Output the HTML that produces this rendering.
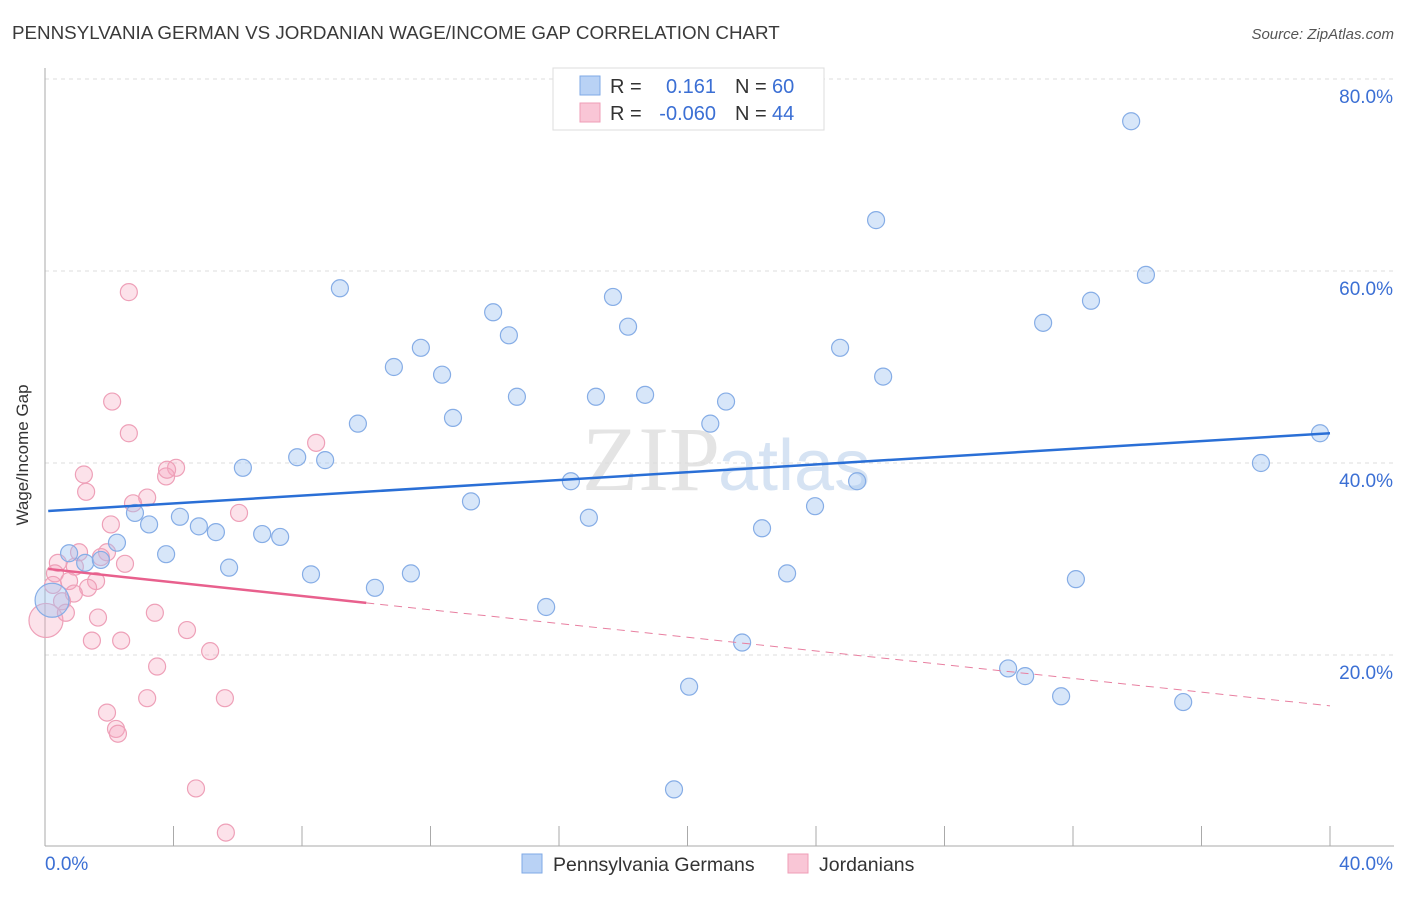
<!DOCTYPE html>
<html><head><meta charset="utf-8"><style>
body{margin:0;background:#fff;font-family:"Liberation Sans",sans-serif;}
</style></head><body>
<svg id="c" width="1406" height="892" xmlns="http://www.w3.org/2000/svg" style="font-family:'Liberation Sans',sans-serif">
<text x="12" y="39" font-size="18.8" fill="#3a3a3a">PENNSYLVANIA GERMAN VS JORDANIAN WAGE/INCOME GAP CORRELATION CHART</text>
<text x="1394" y="39" font-size="15" font-style="italic" fill="#555" text-anchor="end">Source: ZipAtlas.com</text>
<text x="720" y="490" font-size="92" font-family="Liberation Serif,serif" fill="#e4e4e4" text-anchor="end">ZIP</text>
<text x="718" y="490" font-size="72" fill="#d6e3f3">atlas</text>
<g id="grid"></g><g id="axes"></g><g id="marks"></g>
<text x="28" y="455" font-size="17" fill="#333" text-anchor="middle" transform="rotate(-90 28 455)">Wage/Income Gap</text>
<g>
<rect x="553" y="68" width="271" height="62" fill="#fff" stroke="#ddd"/>
<rect x="580" y="76" width="20" height="19" fill="#b9d2f5" stroke="#7fa9e6"/>
<rect x="580" y="103" width="20" height="19" fill="#f9c6d6" stroke="#ef9db7"/>
<text x="610" y="93" font-size="20" fill="#333">R =</text>
<text x="716" y="93" font-size="20" fill="#3b6fd4" text-anchor="end">0.161</text>
<text x="735" y="93" font-size="20" fill="#333">N =</text>
<text x="772" y="93" font-size="20" fill="#3b6fd4">60</text>
<text x="610" y="120" font-size="20" fill="#333">R =</text>
<text x="716" y="120" font-size="20" fill="#3b6fd4" text-anchor="end">-0.060</text>
<text x="735" y="120" font-size="20" fill="#333">N =</text>
<text x="772" y="120" font-size="20" fill="#3b6fd4">44</text>
</g>
<g>
<rect x="522" y="854" width="20" height="19" fill="#b9d2f5" stroke="#7fa9e6"/>
<text x="553" y="871" font-size="19.5" fill="#333">Pennsylvania Germans</text>
<rect x="788" y="854" width="20" height="19" fill="#f9c6d6" stroke="#ef9db7"/>
<text x="819" y="871" font-size="19.5" fill="#333">Jordanians</text>
</g>
</svg>
<script>
const yTicks=[20,40,60,80];
const yTickLabels=["20.0%","40.0%","60.0%","80.0%"];
const xTickCount=[0,4,8,12,16,20,24,28,32,36,40];
const blueX=[9.18,25.87,33.81,34.27,32.56,31.07,17.68,18.15,13.95,14.44,11.70,10.86,12.36,24.75,26.09,14.69,17.15,18.68,21.20,20.71,9.74,12.70,6.16,7.85,8.72,37.85,39.69,16.37,25.28,13.26,23.97,16.93,22.32,2.80,4.20,3.24,4.79,5.32,6.76,7.32,2.24,3.77,0.75,1.25,1.74,5.73,8.28,11.39,23.10,32.09,10.27,0.22,15.6,21.7,29.98,30.51,31.63,35.43,20.05,19.58];
const blueY=[58.2,65.3,75.6,59.6,56.9,54.6,57.3,54.2,55.7,53.3,52.0,50.0,49.2,52.0,49.0,46.9,46.9,47.1,46.4,44.1,44.1,44.7,39.5,40.6,40.3,40.0,43.1,38.1,38.1,36.0,35.5,34.3,33.2,34.8,34.4,33.6,33.4,32.8,32.6,32.3,31.7,30.5,30.6,29.6,29.9,29.1,28.4,28.5,28.5,27.9,27.0,25.7,25.0,21.3,18.6,17.8,15.7,15.1,16.7,6.0];
const pinkX=[2.61,2.09,2.61,8.44,4.08,3.77,3.80,1.21,1.28,3.18,2.74,6.04,2.05,1.06,1.93,1.74,2.49,0.40,0.93,0.31,0.75,1.59,0.25,1.34,0.90,0.53,0.03,0.65,3.42,1.65,4.42,1.46,2.37,5.14,3.49,3.18,5.60,1.93,2.21,2.27,4.70,5.63];
const pinkY=[57.8,46.4,43.1,42.1,39.5,38.6,39.3,38.8,37.0,36.4,35.8,34.8,33.6,30.7,30.7,30.2,29.5,29.6,29.2,28.5,27.7,27.7,27.3,27.0,26.4,25.6,23.6,24.4,24.4,23.9,22.6,21.5,21.5,20.4,18.8,15.5,15.5,14.0,12.3,11.8,6.1,1.5];
const pinkBig=[26];const blueBig=[51];
const blueTrend=[35.0,43.1];
const pinkTrend=[29.0,14.7];
const pinkSolidEnd=10;
const NS="http://www.w3.org/2000/svg";
const X=v=>45+v/40*1285, Y=v=>847-v/20*192;
function mk(t,a,p){const e=document.createElementNS(NS,t);for(const k in a)e.setAttribute(k,a[k]);document.getElementById(p).appendChild(e);return e;}
yTicks.forEach((t,i)=>{
 const l=mk('line',{x1:45,x2:1394,y1:Y(t),y2:Y(t),stroke:'#ddd','stroke-dasharray':'4 4'},'grid');
 
 
 const tx=mk('text',{x:1393,y:Y(t)+24,'font-size':19,fill:'#3b6fd4','text-anchor':'end'},'axes');
 tx.textContent=yTickLabels[i];
 
 
});
const ya=mk('line',{x1:45,x2:45,y1:68,y2:846,stroke:'#aaa'},'axes');


const xa=mk('line',{x1:45,x2:1394,y1:846,y2:846,stroke:'#aaa'},'axes');


xTickCount.forEach(t=>{
 const l=mk('line',{x1:X(t),x2:X(t),y1:826,y2:846,stroke:'#aaa'},'axes');
 
 
});
const x0=mk('text',{x:45,y:870,'font-size':19,fill:'#3b6fd4'},'axes');x0.textContent='0.0%';


const x1=mk('text',{x:1393,y:870,'font-size':19,fill:'#3b6fd4','text-anchor':'end'},'axes');x1.textContent='40.0%';


pinkX.forEach((v,i)=>{
 const c=mk('circle',{cx:X(v),cy:Y(pinkY[i]),r:pinkBig.includes(i)?17:8.5,fill:'rgba(245,165,190,0.32)',stroke:'#eea0b8','stroke-width':1.2},'marks');
 
 
});
blueX.forEach((v,i)=>{
 const c=mk('circle',{cx:X(v),cy:Y(blueY[i]),r:blueBig.includes(i)?17:8.5,fill:'rgba(160,195,240,0.42)',stroke:'#86ade6','stroke-width':1.2},'marks');
 
 
});
const pAt=x=>pinkTrend[0]+(pinkTrend[1]-pinkTrend[0])*x/40;
const pd=mk('line',{x1:X(pinkSolidEnd),y1:Y(pAt(pinkSolidEnd)),x2:X(40),y2:Y(pinkTrend[1]),stroke:'#e87fa0','stroke-width':1,'stroke-dasharray':'8 6'},'marks');


const ps=mk('line',{x1:X(0.1),y1:Y(pAt(0.1)),x2:X(pinkSolidEnd),y2:Y(pAt(pinkSolidEnd)),stroke:'#e8608d','stroke-width':2.5},'marks');


const bt=mk('line',{x1:X(0.1),y1:Y(blueTrend[0]),x2:X(40),y2:Y(blueTrend[1]),stroke:'#2a6fd6','stroke-width':2.5},'marks');


</script>
</body></html>
